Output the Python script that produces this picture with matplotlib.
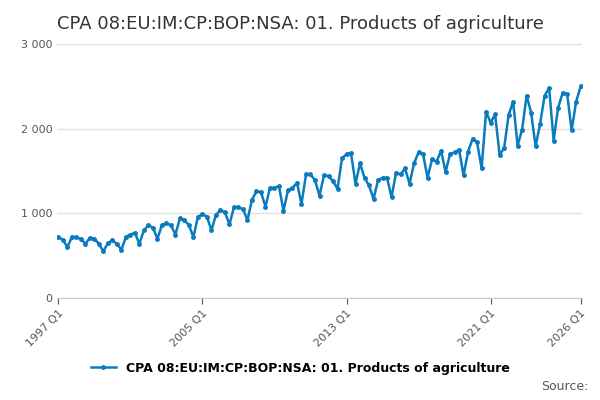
import matplotlib.pyplot as plt


def quarterly_values() -> list[float]:
    """
    Квартальні значення 1997 Q1 .. 2026 Q1, прочитані з графіка.
    """
    return [
        720, 690, 600, 720,
        715, 700, 640, 710,
        700, 640, 550, 650,
        680, 640, 570, 720,
        750, 770, 640, 800,
        860, 830, 700, 860,
        880, 860, 750, 940,
        920, 860, 720, 960,
        990, 960, 800, 980,
        1040, 1010, 870, 1070,
        1070, 1050, 920, 1160,
        1260, 1250, 1080, 1300,
        1300, 1320, 1030, 1270,
        1300, 1360, 1110, 1460,
        1460, 1390, 1210, 1450,
        1440, 1380, 1290, 1650,
        1700, 1710, 1350, 1590,
        1420, 1330, 1170, 1390,
        1420, 1420, 1190, 1480,
        1460, 1530, 1350, 1590,
        1720, 1700, 1420, 1640,
        1610, 1740, 1490, 1700,
        1720, 1750, 1450, 1730,
        1880, 1840, 1530, 2200,
        2070, 2170, 1690, 1770,
        2160, 2320, 1800, 1990,
        2390, 2190, 1790, 2060,
        2390, 2480, 1860, 2250,
        2420, 2410, 1980, 2320,
        2500,
    ]


def plot_series(values: list[float]) -> None:
    x = list(range(len(values)))
    color = "#0a7bbf"

    fig = plt.figure(figsize=(6, 4), dpi=100)
    ax = fig.add_axes([0.095, 0.255, 0.875, 0.635])
    ax.plot(x, values, color=color, marker="o", markersize=2.5, linewidth=1.8,
            label="CPA 08:EU:IM:CP:BOP:NSA: 01. Products of agriculture")

    ax.set_ylim(0, 3000)
    ax.set_yticks([0, 1000, 2000, 3000])
    ax.set_yticklabels(["0", "1 000", "2 000", "3 000"])
    ax.set_xlim(-0.3, len(values) - 0.7)
    ticks = [0, 32, 64, 96, 116]  # 1997, 2005, 2013, 2021, 2026
    ax.set_xticks(ticks)
    ax.set_xticklabels(["1997 Q1", "2005 Q1", "2013 Q1", "2021 Q1", "2026 Q1"],
                       rotation=45, ha="right", rotation_mode="anchor")
    ax.tick_params(axis="both", labelsize=8, colors="#555555", length=4)
    ax.tick_params(axis="y", length=0)
    ax.grid(True, axis="y", color="#e0e0e0", linewidth=1)
    ax.set_axisbelow(True)
    for side in ["top", "right", "left"]:
        ax.spines[side].set_visible(False)
    ax.spines["bottom"].set_color("#cccccc")

    fig.text(0.095, 0.94, "CPA 08:EU:IM:CP:BOP:NSA: 01. Products of agriculture",
             fontsize=13, color="#333333", va="center")
    fig.legend(loc="lower center", bbox_to_anchor=(0.5, 0.035), frameon=False,
               fontsize=9, handlelength=2, prop={"weight": "bold", "size": 9})
    fig.text(0.98, 0.025, "Source:", fontsize=9, color="#555555", ha="right")
    fig.savefig("out.png", dpi=100)


def main() -> None:
    values = quarterly_values()
    plot_series(values)


if __name__ == "__main__":
    main()
